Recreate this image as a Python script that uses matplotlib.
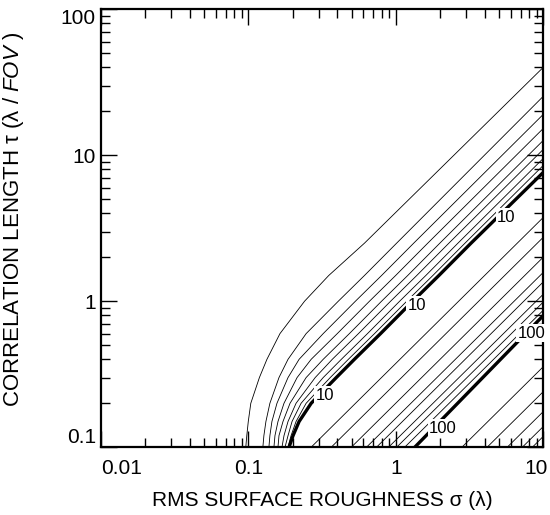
import matplotlib.pyplot as plt
from matplotlib.ticker import LogLocator, NullFormatter
from matplotlib.transforms import ScaledTranslation

plt.rcParams['font.family'] = ['Liberation Sans', 'DejaVu Sans']
plt.rcParams['mathtext.fontset'] = 'custom'
plt.rcParams['mathtext.rm'] = 'Liberation Sans'
plt.rcParams['mathtext.it'] = 'Liberation Sans:italic'

# contour levels that bend over near sigma ~ 0.1 - 0.2
curve_levels = [2, 3, 4, 5, 6, 7, 8, 9, 10]
tau_grid = [0.1, 0.12, 0.15, 0.2, 0.3, 0.4, 0.6, 1.0, 1.5, 2.5]
sig_2 = [0.0959, 0.0974, 0.0997, 0.1037, 0.1186, 0.1334, 0.1635, 0.2400, 0.3500, 0.612]
sig_3 = [0.1252, 0.1272, 0.1313, 0.1397, 0.1610, 0.1854, 0.2460, 0.4064, 0.6113, 1.011]
sig_4 = [0.1376, 0.1397, 0.1442, 0.1560, 0.1854, 0.2204, 0.3211, 0.5309, 0.7985, 1.320]
sig_5 = [0.1488, 0.1512, 0.1585, 0.1741, 0.2136, 0.2661, 0.4000, 0.6613, 0.9947, 1.644]
sig_6 = [0.1585, 0.1610, 0.1714, 0.1913, 0.2460, 0.3211, 0.4831, 0.7985, 1.201, 1.985]
sig_7 = [0.1687, 0.1741, 0.1854, 0.2102, 0.2834, 0.3700, 0.5565, 0.9197, 1.383, 2.286]
sig_8 = [0.1769, 0.1854, 0.1974, 0.2274, 0.3211, 0.4261, 0.6409, 1.059, 1.593, 2.633]
sig_9 = [0.1854, 0.1944, 0.2102, 0.2460, 0.3584, 0.4756, 0.7152, 1.183, 1.778, 2.939]
sig_10 = [0.1884, 0.2005, 0.2204, 0.2661, 0.3938, 0.5226, 0.7860, 1.299, 1.954, 3.230]
# tau where each of these curves meets sigma = 10
tau_edge_curved = [40.1, 25.4, 19.1, 15.3, 12.67, 11.0, 9.54, 8.54, 7.65]

# straight contours: sigma where they cross tau = 0.1, tau where they cross sigma = 10
straight_levels = [20, 30, 40, 50, 60, 70, 80, 90, 100, 200, 300, 400, 500, 600, 700]
sigma_bottom = [0.266, 0.364, 0.498, 0.631, 0.738, 0.891, 1.011, 1.146, 1.341,
                2.80, 4.15, 5.68, 7.19, 8.41, 9.84]
tau_right = [3.76, 2.75, 2.01, 1.58, 1.36, 1.12, 0.99, 0.87, 0.80,
             0.357, 0.241, 0.176, 0.139, 0.119, 0.102]

# inline contour labels
label_text = ['10', '10', '10', '100', '100']
label_sigma = [0.328, 1.383, 5.60, 2.08, 8.28]
label_tau = [0.227, 0.939, 3.76, 0.135, 0.604]

x_ticks = [0.01, 0.1, 1, 10]
x_ticklabels = ['0.01', '0.1', '1', '10']
y_ticks = [0.1, 1, 10, 100]
y_ticklabels = ['0.1', '1', '10', '100']

fig = plt.figure(figsize=(5.5, 5.15), dpi=100)
ax = fig.add_axes([0.1836, 0.1316, 0.8045, 0.8505])
ax.set_xscale('log')
ax.set_yscale('log')

sigma_curves = [sig_2, sig_3, sig_4, sig_5, sig_6, sig_7, sig_8, sig_9, sig_10]
for lev, sig, te in zip(curve_levels, sigma_curves, tau_edge_curved):
    lw = 2.4 if lev == 10 else 0.6
    ax.plot(sig + [10], tau_grid + [te], color='black', lw=lw)

for lev, sb, tr in zip(straight_levels, sigma_bottom, tau_right):
    lw = 2.4 if lev == 100 else 0.6
    ax.plot([sb, 10], [0.1, tr], color='black', lw=lw)

for txt, s, t in zip(label_text, label_sigma, label_tau):
    ax.text(s, t, txt, fontsize=12, ha='center', va='center', zorder=5,
            bbox=dict(facecolor='white', edgecolor='none', pad=1.0))

ax.set_xlim(0.01, 10)
ax.set_ylim(0.1, 100)
ax.set_xticks(x_ticks, labels=x_ticklabels)
ax.set_yticks(y_ticks, labels=y_ticklabels)
ax.xaxis.set_minor_locator(LogLocator(base=10, subs=range(2, 10)))
ax.yaxis.set_minor_locator(LogLocator(base=10, subs=range(2, 10)))
ax.xaxis.set_minor_formatter(NullFormatter())
ax.yaxis.set_minor_formatter(NullFormatter())
ax.tick_params(which='both', direction='in', top=True, right=True, width=1.0,
               labelsize=15)
ax.tick_params(which='major', length=11.5)
ax.tick_params(which='minor', length=6.5)
ax.tick_params(axis='x', which='major', pad=8.5)
ax.tick_params(axis='y', which='major', pad=3.6)

xl = ax.get_xticklabels()
xl[0].set_ha('left')
xl[-1].set_transform(xl[-1].get_transform() +
                     ScaledTranslation(-5 / 72, 0, fig.dpi_scale_trans))
yl = ax.get_yticklabels()
yl[0].set_va('bottom')
yl[-1].set_va('top')
for sp in ax.spines.values():
    sp.set_linewidth(1.6)

ax.set_xlabel('RMS SURFACE ROUGHNESS σ (λ)', fontsize=15)
ax.set_ylabel('CORRELATION LENGTH τ (λ / $\\it{FOV}$ )', fontsize=16)
ax.xaxis.set_label_coords(0.5, -0.1)
ax.yaxis.set_label_coords(-0.17, 0.52)

fig.savefig('out.png', dpi=100)
